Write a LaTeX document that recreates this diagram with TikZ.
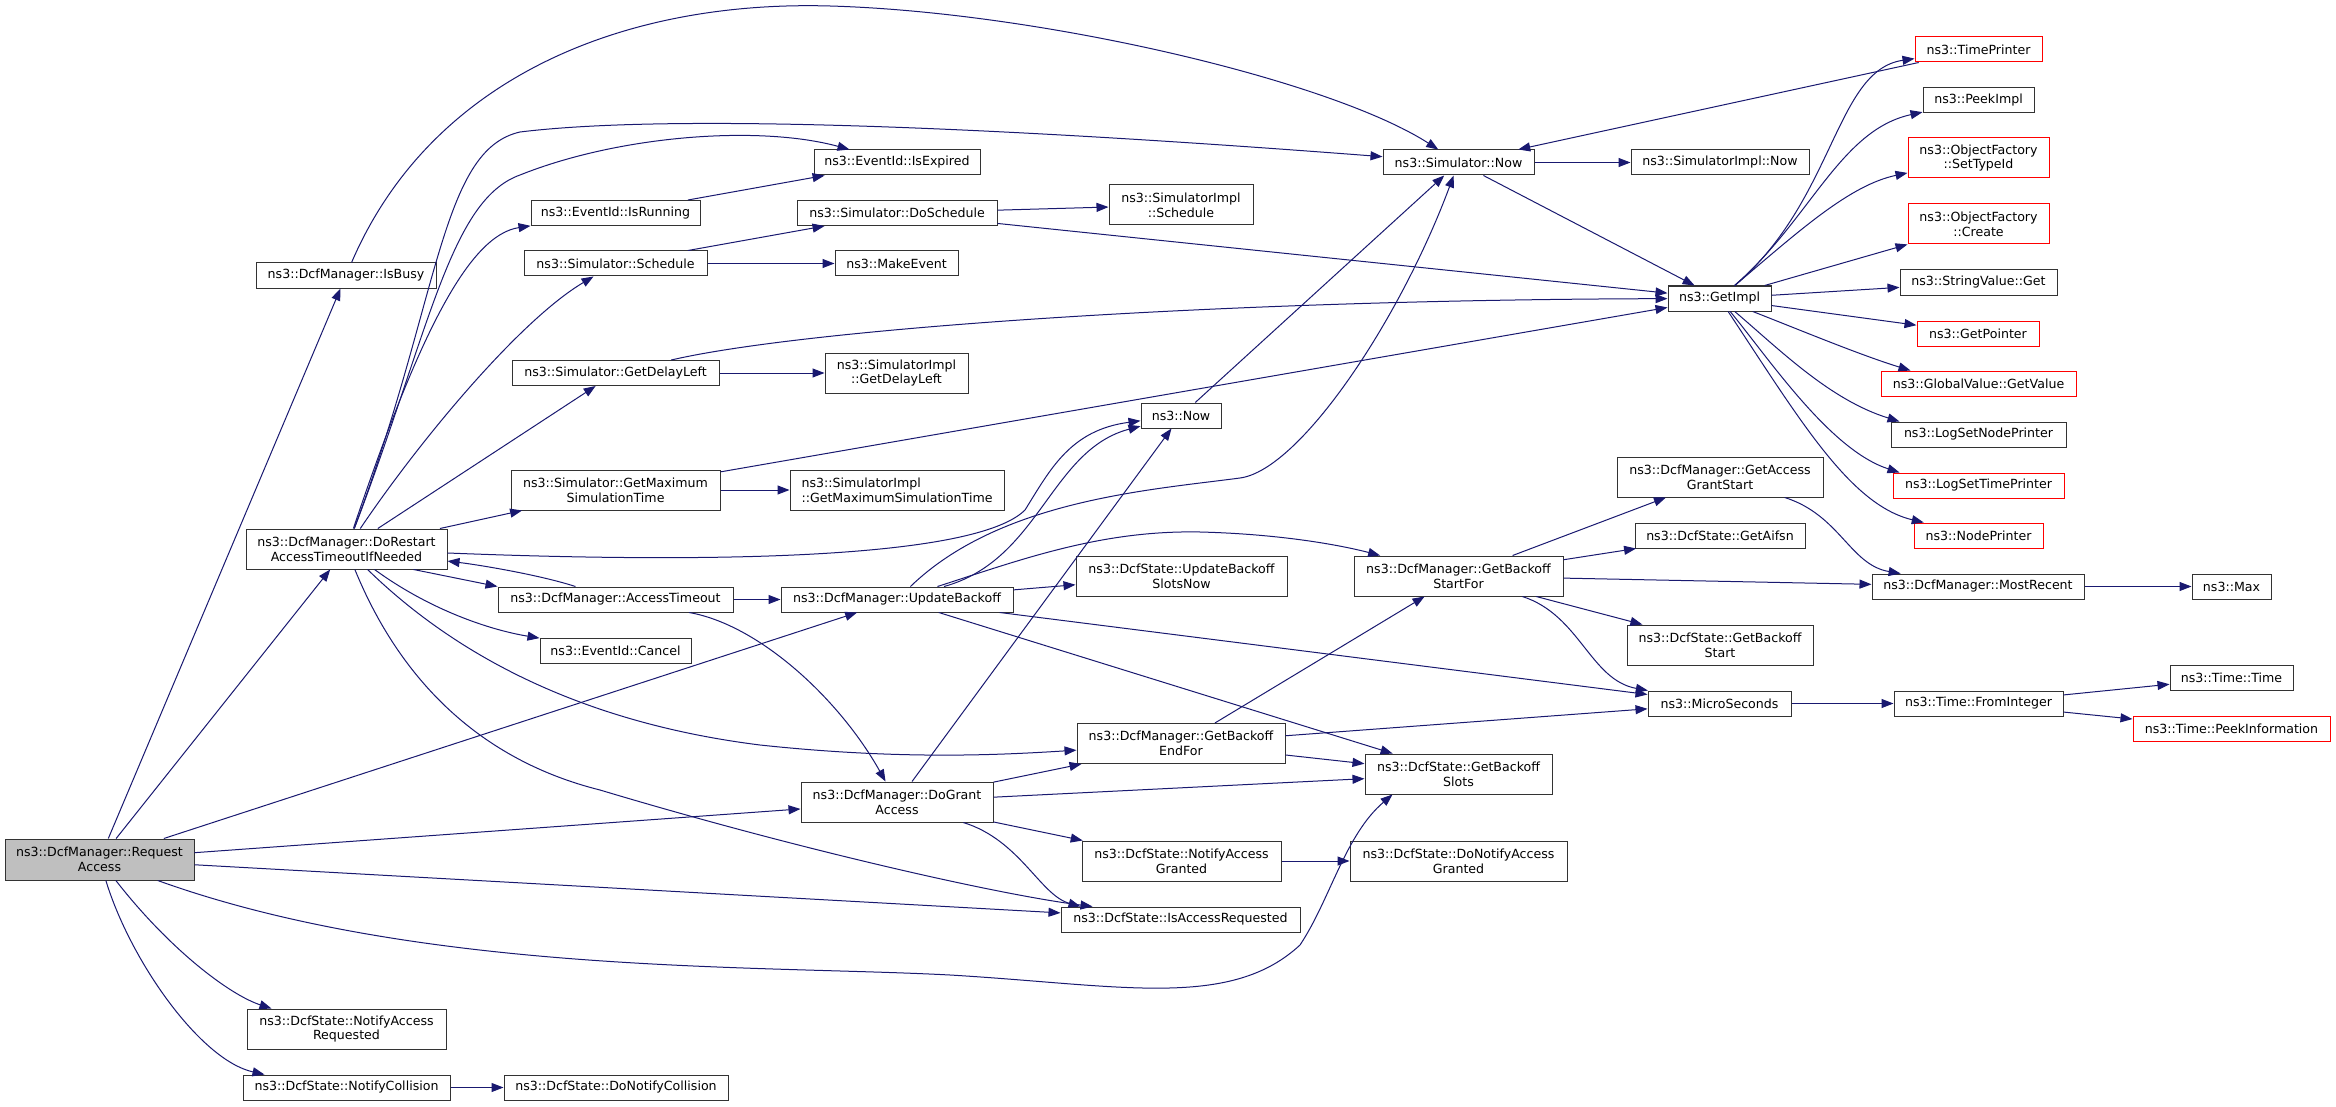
\documentclass[tikz,border=0pt]{standalone}
\usepackage{fontspec}
\setmainfont{DejaVu Sans}
\usetikzlibrary{arrows.meta}
\definecolor{callblue}{HTML}{191970}
\definecolor{rootgray}{HTML}{BFBFBF}
\tikzstyle{func}=[rectangle,draw=black!80,line width=1pt,inner sep=0pt,minimum height=25pt,align=center,font=\fontsize{12.6}{14.7}\selectfont]
\tikzstyle{func2}=[func,minimum height=40pt]
\tikzstyle{redfunc}=[func,draw=red]
\tikzstyle{redfunc2}=[func2,draw=red]
\tikzstyle{call}=[draw=callblue,line width=1pt,->]

\begin{document}
\begin{tikzpicture}[x=1pt,y=-1pt,>={Triangle[length=12pt,width=9pt]}]
	\path[use as bounding box,fill=white] (0,0) rectangle (2336,1107);

	% First we draw the functions
	\node[func2,fill=rootgray,minimum width=189pt,minimum height=41pt] (req) at (99.5,859.5) {ns3::DcfManager::Request\\Access};

	\foreach \pos/\name/\w/\txt in {{(346,275.5)/busy/180/{ns3::DcfManager::IsBusy}},
			{(897,162.5)/expired/166/{ns3::EventId::IsExpired}}, {(615.5,213)/running/169/{ns3::EventId::IsRunning}},
			{(897,213)/dosched/200/{ns3::Simulator::DoSchedule}}, {(615.5,263.5)/sched/183/{ns3::Simulator::Schedule}},
			{(896.5,263.5)/makeev/123/{ns3::MakeEvent}}, {(615.5,373)/delay/207/{ns3::Simulator::GetDelayLeft}},
			{(615.5,599.5)/timeout/235/{ns3::DcfManager::AccessTimeout}}, {(615.5,650.5)/cancel/151/{ns3::EventId::Cancel}},
			{(897,599.5)/update/232/{ns3::DcfManager::UpdateBackoff}}, {(1181,415.5)/now/80/{ns3::Now}},
			{(1720,535.5)/aifsn/170/{ns3::DcfState::GetAifsn}}, {(1719.5,703.5)/micro/143/{ns3::MicroSeconds}},
			{(1978,586.5)/recent/212/{ns3::DcfManager::MostRecent}}, {(2231.5,586.5)/max/79/{ns3::Max}},
			{(1978.5,703.5)/fromint/169/{ns3::Time::FromInteger}}, {(2231.5,678)/ttime/123/{ns3::Time::Time}},
			{(1458.5,162.5)/simnow/151/{ns3::Simulator::Now}}, {(1720,162.5)/implnow/178/{ns3::SimulatorImpl::Now}},
			{(1719.5,298.5)/getimpl/103/{ns3::GetImpl}}, {(1978.5,100)/peekimpl/111/{ns3::PeekImpl}},
			{(1978.5,282.5)/strget/157/{ns3::StringValue::Get}}, {(1978.5,434.5)/nodeprn/175/{ns3::LogSetNodePrinter}},
			{(1180.5,919.5)/isreq/239/{ns3::DcfState::IsAccessRequested}},
			{(346.5,1087.5)/collision/207/{ns3::DcfState::NotifyCollision}},
			{(616,1087.5)/docollision/224/{ns3::DcfState::DoNotifyCollision}}}
	\node[func,minimum width=\w pt] (\name) at \pos {\txt};

	\foreach \pos/\name/\w/\txt in {{(346.5,549)/restart/201/{ns3::DcfManager::DoRestart\\AccessTimeoutIfNeeded}},
			{(1181,205)/implsched/144/{ns3::SimulatorImpl\\::Schedule}}, {(896.5,373)/impldelay/143/{ns3::SimulatorImpl\\::GetDelayLeft}},
			{(615.5,490)/maxsim/209/{ns3::Simulator::GetMaximum\\SimulationTime}},
			{(1181.5,576)/slotsnow/211/{ns3::DcfState::UpdateBackoff\\SlotsNow}},
			{(1458.5,576)/startfor/209/{ns3::DcfManager::GetBackoff\\StartFor}},
			{(1720,477)/grantstart/206/{ns3::DcfManager::GetAccess\\GrantStart}},
			{(1720,645)/bostart/186/{ns3::DcfState::GetBackoff\\Start}},
			{(1181,743.5)/endfor/208/{ns3::DcfManager::GetBackoff\\EndFor}},
			{(1458.5,774)/boslots/187/{ns3::DcfState::GetBackoff\\Slots}},
			{(897,802)/grant/192/{ns3::DcfManager::DoGrant\\Access}},
			{(1181.5,861)/notgranted/199/{ns3::DcfState::NotifyAccess\\Granted}},
			{(1458.5,861)/donotgranted/217/{ns3::DcfState::DoNotifyAccess\\Granted}},
			{(346.5,1029)/notreq/199/{ns3::DcfState::NotifyAccess\\Requested}}}
	\node[func2,minimum width=\w pt] (\name) at \pos {\txt};

	\node[func2,align=left,minimum width=214pt] (implmax) at (897,490) {ns3::SimulatorImpl\\::GetMaximumSimulationTime};

	% functions without documentation get a red frame
	\foreach \pos/\name/\w/\txt in {{(1978.5,49.5)/timeprinter/127/{ns3::TimePrinter}},
			{(1978,333.5)/getptr/122/{ns3::GetPointer}}, {(1978.5,383.5)/gvget/195/{ns3::GlobalValue::GetValue}},
			{(1978.5,485.5)/timeprn/171/{ns3::LogSetTimePrinter}}, {(1978.5,535.5)/nodeprinter/129/{ns3::NodePrinter}},
			{(2231.5,729)/peekinfo/197/{ns3::Time::PeekInformation}}}
	\node[redfunc,minimum width=\w pt] (\name) at \pos {\txt};

	\foreach \pos/\name/\txt in {{(1978.5,158)/settype/{ns3::ObjectFactory\\::SetTypeId}},
			{(1978.5,224)/create/{ns3::ObjectFactory\\::Create}}}
	\node[redfunc2,minimum width=141pt] (\name) at \pos {\txt};

	% Straight calls
	\foreach \src/\dst in {req/busy, req/restart, req/update, req/grant, req/isreq,
			restart/delay, restart/maxsim, running/expired, sched/dosched, sched/makeev,
			dosched/implsched, dosched/getimpl, delay/impldelay, maxsim/implmax, maxsim/getimpl,
			timeout/update, update/slotsnow, update/micro, update/boslots,
			grant/now, grant/endfor, grant/boslots, grant/notgranted,
			now/simnow, simnow/implnow, simnow/getimpl, timeprinter/simnow,
			getimpl/create, getimpl/strget, getimpl/getptr,
			endfor/startfor, endfor/micro, endfor/boslots,
			startfor/grantstart, startfor/aifsn, startfor/recent, startfor/bostart,
			recent/max, micro/fromint, fromint/ttime, fromint/peekinfo,
			notgranted/donotgranted, collision/docollision}
	\path[call] (\src) -- (\dst);

	% Curved calls
	\path[call] (busy) .. controls (430,80) and (620,0) .. (830,6) .. controls (1040,12) and (1330,80) .. (simnow);
	\path[call] (restart) .. controls (440,300) and (440,150) .. (520,132) .. controls (700,110) and (1100,135) .. (simnow);
	\path[call] (restart) .. controls (430,330) and (450,200) .. (520,175) .. controls (620,135) and (760,125) .. (expired);
	\path[call] (restart) .. controls (420,330) and (470,235) .. (running);
	\path[call] (restart) .. controls (420,440) and (520,320) .. (sched);
	\path[call] (restart) .. controls (750,565) and (980,555) .. (1025,510) .. controls (1050,470) and (1070,430) .. (now);
	\path[call] (restart.-17) -- (timeout.north west);
	\path[call] (timeout) .. controls (540,575) and (480,565) .. (restart);
	\path[call] (restart) .. controls (430,610) and (490,630) .. (cancel);
	\path[call] (restart) .. controls (440,640) and (560,720) .. (760,745) .. controls (900,760) and (1000,755) .. (endfor);
	\path[call] (restart) .. controls (400,680) and (480,760) .. (600,790) .. controls (800,850) and (1000,895) .. ([xshift=32pt]isreq.north west);
	\path[call] (req) .. controls (420,975) and (760,965) .. (950,975) .. controls (1120,985) and (1230,1010) .. (1300,945)
		.. controls (1330,900) and (1345,835) .. ([xshift=28pt]boslots.south west);
	\path[call] (req) .. controls (170,950) and (230,995) .. ([xshift=25pt]notreq.north west);
	\path[call] (req) .. controls (130,960) and (200,1060) .. ([xshift=22pt]collision.north west);
	\path[call] (delay) .. controls (800,330) and (1200,300) .. (getimpl);
	\path[call] (timeout) .. controls (760,625) and (840,700) .. (grant);
	\path[call] (update) .. controls (1040,560) and (1050,450) .. (now);
	\path[call] (update) .. controls (1000,500) and (1150,490) .. (1240,478) .. controls (1300,470) and (1400,320) .. (simnow);
	\path[call] (update) .. controls (1020,560) and (1100,530) .. (1200,532) .. controls (1280,534) and (1340,545) .. (startfor);
	\path[call] (grant) .. controls (1020,840) and (1040,895) .. ([xshift=20pt]isreq.north west);
	\path[call] (getimpl) .. controls (1835,200) and (1835,70) .. (timeprinter);
	\path[call] (getimpl) .. controls (1810,220) and (1840,130) .. (peekimpl);
	\path[call] (getimpl) .. controls (1800,230) and (1850,185) .. (settype);
	\path[call] (getimpl) .. controls (1800,330) and (1860,355) .. ([xshift=30pt]gvget.north west);
	\path[call] (getimpl) .. controls (1780,350) and (1830,400) .. ([xshift=9pt]nodeprn.north west);
	\path[call] (getimpl) .. controls (1770,360) and (1830,450) .. ([xshift=7pt]timeprn.north west);
	\path[call] (getimpl) .. controls (1800,420) and (1850,505) .. (nodeprinter);
	\path[call] (startfor) .. controls (1580,615) and (1590,680) .. (micro);
	\path[call] (grantstart) .. controls (1840,515) and (1850,565) .. (recent);

\end{tikzpicture}
\end{document}
